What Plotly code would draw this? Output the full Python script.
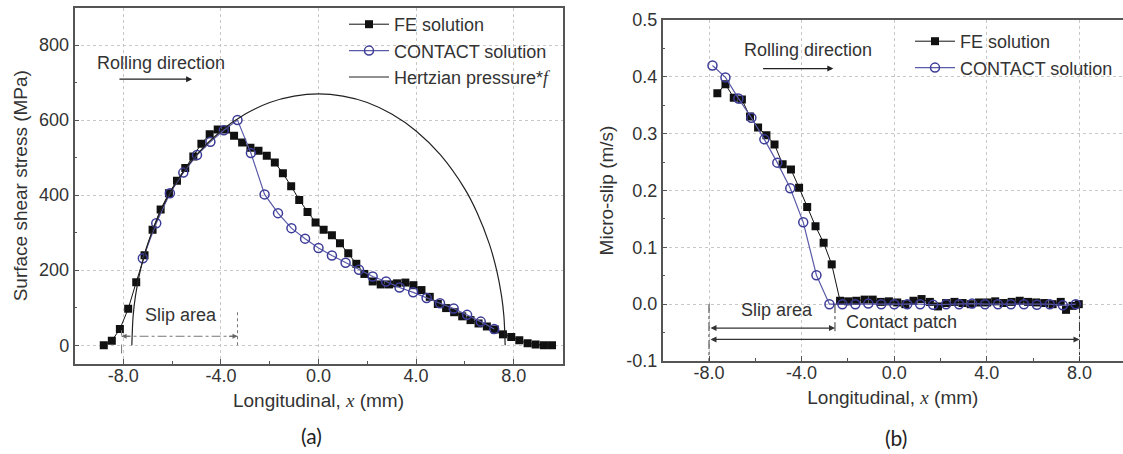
import plotly.graph_objects as go

# ---------------- Panel (a): surface shear stress ----------------
fe_a_x = [-8.80, -8.47, -8.14, -7.80, -7.47, -7.13, -6.80, -6.47, -6.13, -5.80,
          -5.46, -5.13, -4.80, -4.46, -4.13, -3.79, -3.46, -3.13, -2.79, -2.46,
          -2.12, -1.79, -1.46, -1.12, -0.79, -0.45, -0.12, 0.21, 0.55, 0.88,
          1.22, 1.55, 1.88, 2.22, 2.55, 2.89, 3.22, 3.56, 3.89, 4.22,
          4.56, 4.89, 5.23, 5.56, 5.89, 6.23, 6.56, 6.90, 7.23, 7.56,
          7.90, 8.23, 8.57, 8.90, 9.24, 9.57]
fe_a_y = [0, 12, 43, 97, 168, 240, 308, 362, 405, 438,
          472, 503, 537, 562, 575, 575, 558, 540, 526, 518,
          505, 487, 458, 424, 387, 355, 327, 308, 293, 272,
          245, 217, 190, 170, 162, 162, 165, 167, 160, 147,
          129, 110, 99, 88, 77, 67, 58, 50, 42, 29,
          22, 13, 5, 2, 0, 0]

ct_a_x = [-7.20, -6.65, -6.09, -5.54, -4.98, -4.43, -3.88, -3.32, -2.77, -2.21,
          -1.66, -1.11, -0.55, 0.00, 0.55, 1.11, 1.66, 2.22, 2.77, 3.32,
          3.88, 4.43, 4.98, 5.54, 6.09, 6.65, 7.20]
ct_a_y = [232, 325, 405, 460, 507, 542, 573, 600, 512, 402,
          352, 312, 284, 259, 239, 220, 201, 183, 170, 154,
          141, 126, 112, 98, 81, 63, 43]

hz_x = [-7.65, -7.60, -7.50, -7.30, -7.00, -6.50, -6.00, -5.00, -4.00, -3.00,
        -2.00, -1.00, 0.00, 1.00, 2.00, 3.00, 4.00, 5.00, 6.00, 6.50,
        7.00, 7.30, 7.50, 7.60, 7.65]
hz_y = [0, 76, 132, 200, 270, 353, 416, 507, 571, 616,
        647, 664, 670, 664, 647, 616, 571, 507, 416, 353,
        270, 200, 132, 76, 0]

# ---------------- Panel (b): micro-slip ----------------
fe_b_x = [-7.64, -7.29, -6.93, -6.58, -6.23, -5.88, -5.52, -5.17, -4.82, -4.46,
          -4.11, -3.76, -3.40, -3.05, -2.70, -2.34, -1.99, -1.64, -1.28, -0.93,
          -0.58, -0.23, 0.13, 0.48, 0.83, 1.18, 1.54, 1.89, 2.24, 2.60,
          2.95, 3.30, 3.66, 4.01, 4.36, 4.72, 5.07, 5.42, 5.78, 6.13,
          6.48, 6.84, 7.19, 7.42, 7.70, 7.97]
fe_b_y = [0.371, 0.387, 0.363, 0.360, 0.330, 0.311, 0.297, 0.281, 0.246, 0.237,
          0.205, 0.171, 0.137, 0.108, 0.070, 0.006, 0.005, 0.006, 0.008, 0.008,
          0.004, 0.005, 0.003, 0.000, 0.006, 0.009, 0.004, -0.004, 0.002, 0.004,
          0.002, 0.000, 0.003, 0.003, 0.005, 0.002, 0.004, 0.006, 0.004, 0.003,
          0.002, 0.000, 0.004, -0.010, -0.003, 0.000]

ct_b_x = [-7.85, -7.29, -6.73, -6.17, -5.61, -5.05, -4.49, -3.93, -3.36, -2.80,
          -2.24, -1.68, -1.12, -0.56, 0.00, 0.56, 1.12, 1.68, 2.24, 2.80,
          3.36, 3.92, 4.48, 5.04, 5.60, 6.16, 6.72, 7.28, 7.84]
ct_b_y = [0.420, 0.399, 0.362, 0.328, 0.290, 0.249, 0.204, 0.144, 0.051, 0.000,
          0.000, 0.000, 0.001, 0.000, 0.000, 0.000, 0.000, -0.001, 0.000, 0.000,
          0.001, 0.000, 0.000, 0.000, 0.000, -0.001, 0.000, -0.002, 0.000]

# ---------------- Tick labels ----------------
x_tick_vals = [-8, -4, 0, 4, 8]
x_tick_text = ["-8.0", "-4.0", "0.0", "4.0", "8.0"]
ya_tick_vals = [0, 200, 400, 600, 800]
ya_tick_text = ["0", "200", "400", "600", "800"]
yb_tick_vals = [-0.1, 0.0, 0.1, 0.2, 0.3, 0.4, 0.5]
yb_tick_text = ["-0.1", "0.0", "0.1", "0.2", "0.3", "0.4", "0.5"]

FONT = "Liberation Sans, Arial, sans-serif"
CAP_FONT = "Lato, Noto Sans, sans-serif"
TXT = "#333333"
FE_COL = "#111111"
CT_LINE = "#5a5aa8"
CT_MARK = "#3c3c98"
AXC = "#555555"
GRID = "#c8c8c8"
TICK_SIZE = 18
TITLE_SIZE = 19
TEXT_SIZE = 18

fig = go.Figure()

fe_marker = dict(symbol="square", size=8, color=FE_COL, line=dict(width=0))
ct_marker = dict(symbol="circle-open", size=9, color=CT_MARK, line=dict(width=1.5, color=CT_MARK))

fig.add_trace(go.Scatter(x=fe_a_x, y=fe_a_y, mode="lines+markers", name="FE solution",
                         line=dict(color=FE_COL, width=1), marker=fe_marker,
                         xaxis="x", yaxis="y", legend="legend"))
fig.add_trace(go.Scatter(x=ct_a_x, y=ct_a_y, mode="lines+markers", name="CONTACT solution",
                         line=dict(color=CT_LINE, width=1.2), marker=ct_marker,
                         xaxis="x", yaxis="y", legend="legend"))
fig.add_trace(go.Scatter(x=hz_x, y=hz_y, mode="lines",
                         name="Hertzian pressure*<span style=\"font-family:'Liberation Serif'\"><i>f</i></span>",
                         line=dict(color="#222222", width=1.2, shape="spline", smoothing=0.8),
                         xaxis="x", yaxis="y", legend="legend"))

fig.add_trace(go.Scatter(x=fe_b_x, y=fe_b_y, mode="lines+markers", name="FE solution",
                         line=dict(color=FE_COL, width=1), marker=fe_marker,
                         xaxis="x2", yaxis="y2", legend="legend2"))
fig.add_trace(go.Scatter(x=ct_b_x, y=ct_b_y, mode="lines+markers", name="CONTACT solution",
                         line=dict(color=CT_LINE, width=1.2), marker=ct_marker,
                         xaxis="x2", yaxis="y2", legend="legend2"))

xtitle = "Longitudinal, <span style=\"font-family:'Liberation Serif'\"><i>x</i></span> (mm)"


def xaxis(domain, rng, anchor):
    return dict(domain=domain, range=rng, anchor=anchor, automargin=False,
                tickvals=x_tick_vals, ticktext=x_tick_text,
                ticks="inside", ticklen=5, tickwidth=1, tickcolor=AXC,
                ticklabelstandoff=-5,
                minor=dict(dtick=2, tick0=0, ticks="inside", ticklen=3, tickcolor=AXC, showgrid=False),
                showline=True, linecolor=AXC, linewidth=1.5, mirror=True,
                showgrid=True, gridcolor=GRID, griddash="dot", gridwidth=1,
                zeroline=False,
                tickfont=dict(family=FONT, size=TICK_SIZE, color=TXT),
                title=dict(text=xtitle, font=dict(family=FONT, size=TITLE_SIZE, color=TXT), standoff=8))


fig.update_layout(
    width=1123, height=454, autosize=False,
    margin=dict(l=0, r=0, t=0, b=0, pad=0, autoexpand=False),
    paper_bgcolor="white", plot_bgcolor="white",
    font=dict(family=FONT, color=TXT),
    xaxis=xaxis([74.5 / 1123, 562.5 / 1123], [-10, 10], "y"),
    yaxis=dict(domain=[1 - 364 / 454, 1 - 7.5 / 454], range=[-50, 900], anchor="x", automargin=False,
               tickvals=ya_tick_vals, ticktext=ya_tick_text,
               ticks="inside", ticklen=5, tickwidth=1, tickcolor=AXC,
               minor=dict(dtick=100, tick0=0, ticks="inside", ticklen=3, tickcolor=AXC, showgrid=False),
               showline=True, linecolor=AXC, linewidth=1.5, mirror=True,
               showgrid=True, gridcolor=GRID, griddash="dot", gridwidth=1,
               zeroline=False,
               tickfont=dict(family=FONT, size=TICK_SIZE, color=TXT),
               title=dict(text="Surface shear stress (MPa)",
                          font=dict(family=FONT, size=TITLE_SIZE, color=TXT), standoff=6)),
    xaxis2=xaxis([662.7 / 1123, 1.0], [-10, 9.88], "y2"),
    yaxis2=dict(domain=[1 - 361 / 454, 1 - 20 / 454], range=[-0.1, 0.5], anchor="x2", automargin=False,
                tickvals=yb_tick_vals, ticktext=yb_tick_text,
                ticks="inside", ticklen=5, tickwidth=1, tickcolor=AXC,
                minor=dict(dtick=0.05, tick0=0, ticks="inside", ticklen=3, tickcolor=AXC, showgrid=False),
                showline=True, linecolor=AXC, linewidth=1.5, mirror=False,
                showgrid=True, gridcolor=GRID, griddash="dot", gridwidth=1,
                zeroline=False,
                tickfont=dict(family=FONT, size=TICK_SIZE, color=TXT),
                title=dict(text="Micro-slip (m/s)",
                           font=dict(family=FONT, size=TITLE_SIZE, color=TXT), standoff=8)),
    legend=dict(x=344 / 1123, y=1 - 6 / 454, xanchor="left", yanchor="top", bgcolor="rgba(0,0,0,0)",
                font=dict(family=FONT, size=TEXT_SIZE, color=TXT), itemwidth=40, tracegroupgap=0),
    legend2=dict(x=910 / 1123, y=1 - 23 / 454, xanchor="left", yanchor="top", bgcolor="rgba(0,0,0,0)",
                 font=dict(family=FONT, size=TEXT_SIZE, color=TXT), itemwidth=40, tracegroupgap=0),
    showlegend=True,
)

# ---------------- Annotations panel (a) ----------------
ann = []
ann.append(dict(x=-9.16, y=751, xref="x", yref="y", text="Rolling direction", showarrow=False,
                xanchor="left", yanchor="middle", font=dict(family=FONT, size=TEXT_SIZE, color=TXT)))
ann.append(dict(x=-5.18, y=709, ax=-8.22, ay=709, xref="x", yref="y", axref="x", ayref="y",
                text="", showarrow=True, arrowhead=2, arrowsize=1, arrowwidth=1.2, arrowcolor="#222222"))
ann.append(dict(x=-5.64, y=80, xref="x", yref="y", text="Slip area", showarrow=False,
                xanchor="center", yanchor="middle", font=dict(family=FONT, size=TEXT_SIZE, color=TXT)))
ann.append(dict(x=-8.07, y=24, ax=10, ay=0, xref="x", yref="y", text="", showarrow=True,
                arrowhead=2, arrowsize=1, arrowwidth=1, arrowcolor="#666666"))
ann.append(dict(x=-3.32, y=24, ax=-10, ay=0, xref="x", yref="y", text="", showarrow=True,
                arrowhead=2, arrowsize=1, arrowwidth=1, arrowcolor="#666666"))

# ---------------- Annotations panel (b) ----------------
ann.append(dict(x=-6.59, y=0.447, xref="x2", yref="y2", text="Rolling direction", showarrow=False,
                xanchor="left", yanchor="middle", font=dict(family=FONT, size=TEXT_SIZE, color=TXT)))
ann.append(dict(x=-2.63, y=0.4145, ax=-5.73, ay=0.4145, xref="x2", yref="y2", axref="x2", ayref="y2",
                text="", showarrow=True, arrowhead=2, arrowsize=1, arrowwidth=1.2, arrowcolor="#222222"))
ann.append(dict(x=-5.05, y=-0.011, xref="x2", yref="y2", text="Slip area", showarrow=False,
                xanchor="center", yanchor="middle", font=dict(family=FONT, size=TEXT_SIZE, color=TXT)))
ann.append(dict(x=0.3, y=-0.032, xref="x2", yref="y2", text="Contact patch", showarrow=False,
                xanchor="center", yanchor="middle", font=dict(family=FONT, size=TEXT_SIZE, color=TXT)))
ann.append(dict(x=-2.56, y=-0.042, ax=-8.0, ay=-0.042, xref="x2", yref="y2", axref="x2", ayref="y2",
                text="", showarrow=True, arrowhead=2, arrowside="end+start", arrowsize=1, arrowwidth=1.2,
                arrowcolor="#333333"))
ann.append(dict(x=8.0, y=-0.062, ax=-8.0, ay=-0.062, xref="x2", yref="y2", axref="x2", ayref="y2",
                text="", showarrow=True, arrowhead=2, arrowside="end+start", arrowsize=1, arrowwidth=1.2,
                arrowcolor="#333333"))

# ---------------- Panel captions ----------------
ann.append(dict(x=311 / 1123, y=1 - 435 / 454, xref="paper", yref="paper", text="(a)", showarrow=False,
                xanchor="center", yanchor="middle",
                font=dict(family=CAP_FONT, size=21, color="#222222")))
ann.append(dict(x=896 / 1123, y=1 - 437 / 454, xref="paper", yref="paper", text="(b)", showarrow=False,
                xanchor="center", yanchor="middle",
                font=dict(family=CAP_FONT, size=21, color="#222222")))
fig.update_layout(annotations=ann)

# ---------------- Dashed guide lines ----------------
shapes = [
    dict(type="line", xref="x", yref="y", x0=-8.07, x1=-3.32, y0=24, y1=24,
         line=dict(color="#777777", width=1.2, dash="dashdot")),
    dict(type="line", xref="x", yref="y", x0=-8.07, x1=-8.07, y0=-22, y1=40,
         line=dict(color="#777777", width=1, dash="dash")),
    dict(type="line", xref="x", yref="y", x0=-3.32, x1=-3.32, y0=0, y1=92,
         line=dict(color="#777777", width=1, dash="dot")),
    dict(type="line", xref="x2", yref="y2", x0=-8.0, x1=-8.0, y0=0.0, y1=-0.1,
         line=dict(color="#333333", width=1, dash="dashdot")),
    dict(type="line", xref="x2", yref="y2", x0=-2.56, x1=-2.56, y0=0.0, y1=-0.053,
         line=dict(color="#333333", width=1, dash="dashdot")),
    dict(type="line", xref="x2", yref="y2", x0=8.0, x1=8.0, y0=0.0, y1=-0.1,
         line=dict(color="#333333", width=1, dash="dashdot")),
]
fig.update_layout(shapes=shapes)

fig.write_html("out.html", config={"displayModeBar": False},
               post_script="document.body.style.margin='0px';")
